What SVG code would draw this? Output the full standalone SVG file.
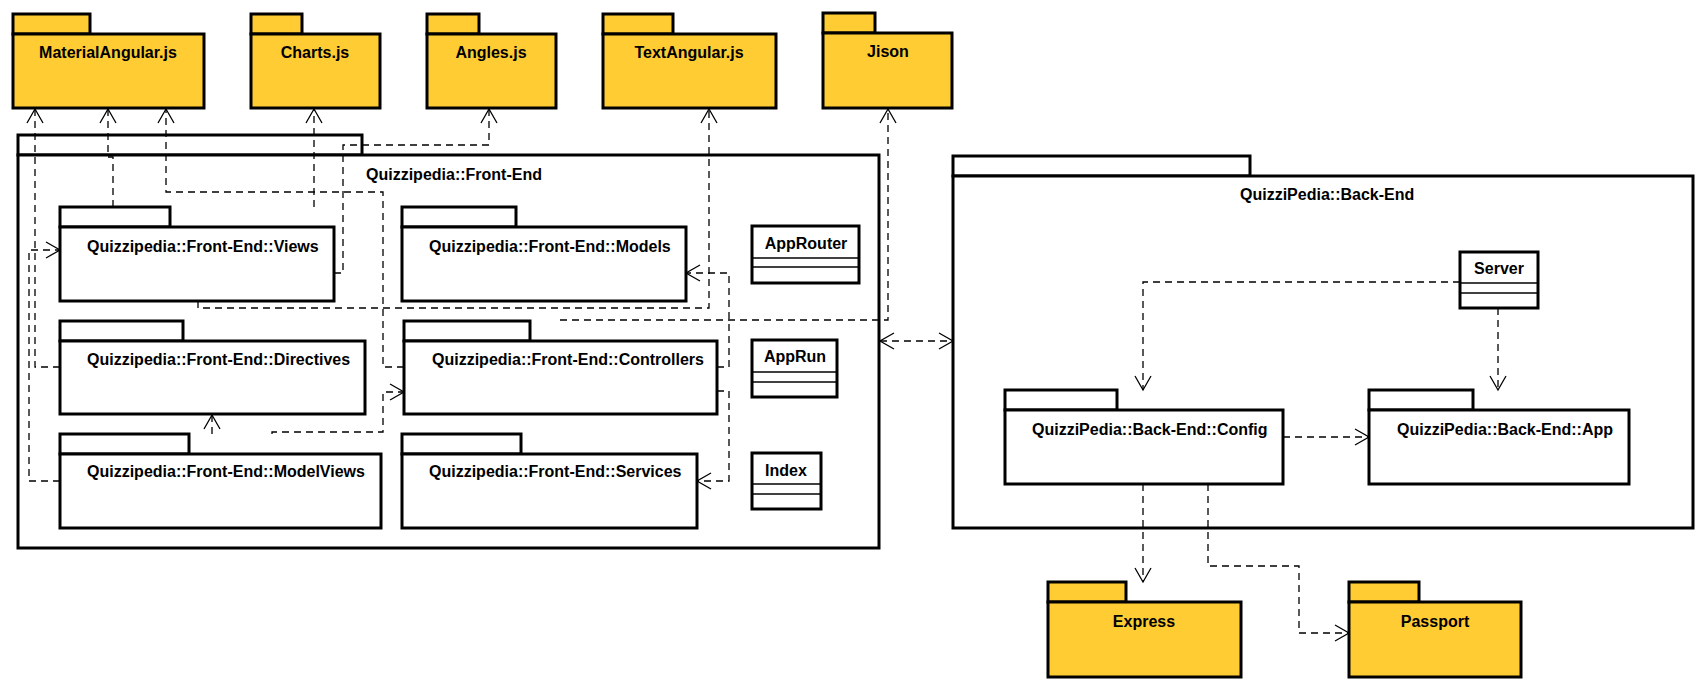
<svg xmlns="http://www.w3.org/2000/svg" width="1706" height="689" viewBox="0 0 1706 689">
<style>
.pkg{fill:#fff;stroke:#000;stroke-width:3}
.lib{fill:#FFCC33;stroke:#000;stroke-width:3}
.cls{fill:#fff;stroke:#000;stroke-width:3}
.sep{stroke:#000;stroke-width:1.3}
.t{font-family:"Liberation Sans",Arial,sans-serif;font-size:16px;font-weight:bold;fill:#000}
.c{text-anchor:middle}
.dep{fill:none;stroke:#000;stroke-width:1.3;stroke-dasharray:7 5;marker-end:url(#arr)}
</style>
<defs>
<marker id="arr" markerUnits="userSpaceOnUse" viewBox="-16 -10 18 20" markerWidth="18" markerHeight="20" refX="0" refY="0" orient="auto-start-reverse" overflow="visible">
<path d="M-14,-8 L0,0 L-14,8" fill="none" stroke="#000" stroke-width="1.3"/>
</marker>
</defs>
<rect width="1706" height="689" fill="#fff"/>

<g id="frontend">
<rect class="pkg" x="18" y="135" width="344" height="20"/>
<rect class="pkg" x="18" y="155" width="861" height="393"/>
<text class="t" x="366" y="180">Quizzipedia::Front-End</text>
</g>
<g id="backend">
<rect class="pkg" x="953" y="156" width="297" height="20"/>
<rect class="pkg" x="953" y="176" width="740" height="352"/>
<text class="t" x="1240" y="200">QuizziPedia::Back-End</text>
</g>

<g id="materialangular">
<rect class="lib" x="13" y="14" width="77" height="20"/>
<rect class="lib" x="13" y="34" width="191" height="74"/>
<text class="t c" x="108" y="58">MaterialAngular.js</text>
</g>
<g id="charts">
<rect class="lib" x="251" y="14" width="51" height="20"/>
<rect class="lib" x="251" y="34" width="129" height="74"/>
<text class="t c" x="315" y="58">Charts.js</text>
</g>
<g id="angles">
<rect class="lib" x="427" y="14" width="52" height="20"/>
<rect class="lib" x="427" y="34" width="129" height="74"/>
<text class="t c" x="491" y="58">Angles.js</text>
</g>
<g id="textangular">
<rect class="lib" x="603" y="14" width="70" height="20"/>
<rect class="lib" x="603" y="34" width="173" height="74"/>
<text class="t c" x="689" y="58">TextAngular.js</text>
</g>
<g id="jison">
<rect class="lib" x="823" y="13" width="52" height="20"/>
<rect class="lib" x="823" y="33" width="129" height="75"/>
<text class="t c" x="888" y="57">Jison</text>
</g>

<g id="views">
<rect class="pkg" x="60" y="207" width="110" height="20"/>
<rect class="pkg" x="60" y="227" width="274" height="74"/>
<text class="t" x="87" y="252">Quizzipedia::Front-End::Views</text>
</g>
<g id="directives">
<rect class="pkg" x="60" y="321" width="123" height="20"/>
<rect class="pkg" x="60" y="341" width="305" height="73"/>
<text class="t" x="87" y="365">Quizzipedia::Front-End::Directives</text>
</g>
<g id="modelviews">
<rect class="pkg" x="60" y="434" width="129" height="20"/>
<rect class="pkg" x="60" y="454" width="321" height="74"/>
<text class="t" x="87" y="477">Quizzipedia::Front-End::ModelViews</text>
</g>
<g id="models">
<rect class="pkg" x="402" y="207" width="114" height="20"/>
<rect class="pkg" x="402" y="227" width="284" height="74"/>
<text class="t" x="429" y="252">Quizzipedia::Front-End::Models</text>
</g>
<g id="controllers">
<rect class="pkg" x="404" y="321" width="126" height="20"/>
<rect class="pkg" x="404" y="341" width="313" height="73"/>
<text class="t" x="432" y="365">Quizzipedia::Front-End::Controllers</text>
</g>
<g id="services">
<rect class="pkg" x="402" y="434" width="119" height="20"/>
<rect class="pkg" x="402" y="454" width="295" height="74"/>
<text class="t" x="429" y="477">Quizzipedia::Front-End::Services</text>
</g>

<g id="approuter">
<rect class="cls" x="752" y="226" width="107" height="57"/>
<line class="sep" x1="752" y1="258" x2="859" y2="258"/>
<line class="sep" x1="752" y1="267" x2="859" y2="267"/>
<text class="t c" x="806" y="249">AppRouter</text>
</g>
<g id="apprun">
<rect class="cls" x="752" y="340" width="85" height="57"/>
<line class="sep" x1="752" y1="372" x2="837" y2="372"/>
<line class="sep" x1="752" y1="382" x2="837" y2="382"/>
<text class="t c" x="795" y="362">AppRun</text>
</g>
<g id="index">
<rect class="cls" x="752" y="453" width="69" height="56"/>
<line class="sep" x1="752" y1="484" x2="821" y2="484"/>
<line class="sep" x1="752" y1="494" x2="821" y2="494"/>
<text class="t c" x="786" y="476">Index</text>
</g>

<g id="server">
<rect class="cls" x="1460" y="252" width="78" height="56"/>
<line class="sep" x1="1460" y1="283" x2="1538" y2="283"/>
<line class="sep" x1="1460" y1="293" x2="1538" y2="293"/>
<text class="t c" x="1499" y="274">Server</text>
</g>
<g id="config">
<rect class="pkg" x="1005" y="390" width="112" height="20"/>
<rect class="pkg" x="1005" y="410" width="278" height="74"/>
<text class="t" x="1032" y="435">QuizziPedia::Back-End::Config</text>
</g>
<g id="app">
<rect class="pkg" x="1369" y="390" width="104" height="20"/>
<rect class="pkg" x="1369" y="410" width="260" height="74"/>
<text class="t" x="1397" y="435">QuizziPedia::Back-End::App</text>
</g>
<g id="express">
<rect class="lib" x="1048" y="582" width="78" height="20"/>
<rect class="lib" x="1048" y="602" width="193" height="75"/>
<text class="t c" x="1144" y="627">Express</text>
</g>
<g id="passport">
<rect class="lib" x="1349" y="582" width="70" height="20"/>
<rect class="lib" x="1349" y="602" width="172" height="75"/>
<text class="t c" x="1435" y="627">Passport</text>
</g>

<g id="connectors">
<path class="dep" d="M60,367 H35 V109"/>
<path class="dep" d="M113,207 V157 H108 V109"/>
<path class="dep" d="M404,367 H383 V192 H166 V109"/>
<path class="dep" d="M314,207 V109"/>
<path class="dep" d="M334,273 H343 V145 H489 V109"/>
<path class="dep" d="M198,301 V308 H709 V109"/>
<path class="dep" d="M560,320 H888 V109"/>
<path class="dep" d="M60,481 H29 V250 H60"/>
<path class="dep" d="M272,434 V432 H383 V392 H404"/>
<path class="dep" d="M212,434 V415"/>
<path class="dep" d="M717,367 H729 V273 H686"/>
<path class="dep" d="M717,391 H729 V481 H697"/>
<path class="dep" d="M880,341 H953" marker-start="url(#arr)"/>
<path class="dep" d="M1460,282 H1143 V390"/>
<path class="dep" d="M1498,308 V390"/>
<path class="dep" d="M1283,437 H1369"/>
<path class="dep" d="M1143,484 V582"/>
<path class="dep" d="M1208,484 V566 H1299 V633 H1349"/>
</g>
</svg>
